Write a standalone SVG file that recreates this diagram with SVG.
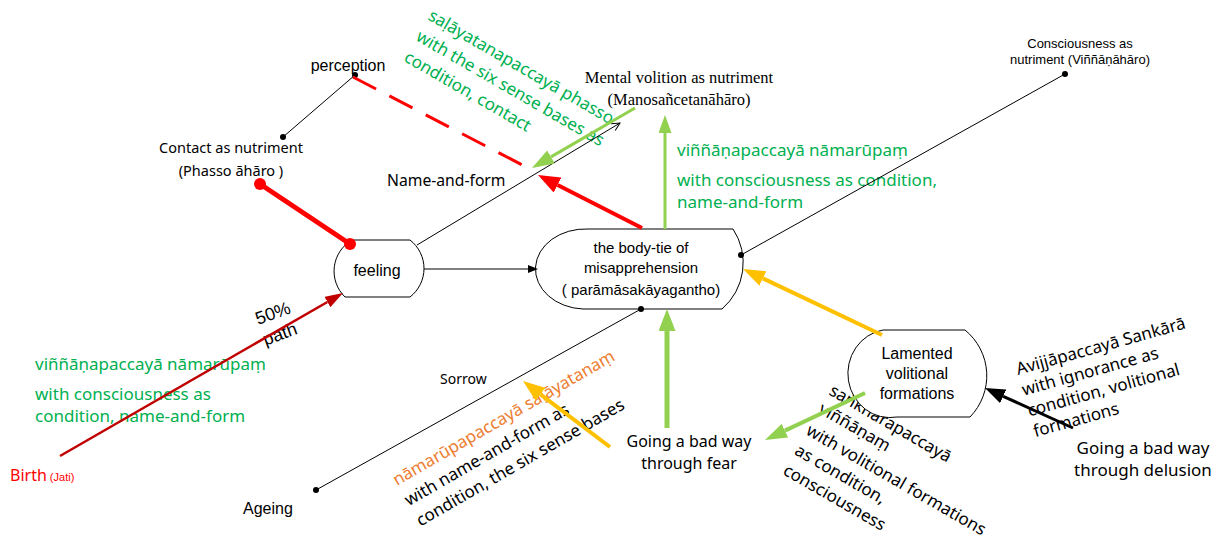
<svg xmlns="http://www.w3.org/2000/svg" width="1222" height="548" viewBox="0 0 1222 548">
<style>
.cal{font-family:"Noto Sans","Open Sans",sans-serif;}
.ar{font-family:"Liberation Sans",Arial,sans-serif;}
.tm{font-family:"Liberation Serif","Times New Roman",serif;}
.g{fill:#00B050;}
.node{fill:#fff;stroke:#000;stroke-width:1;}
.thin{stroke:#000;stroke-width:1;fill:none;}
.dot{fill:#000;}
</style>
<defs>
<marker id="hBlack" markerUnits="userSpaceOnUse" markerWidth="10" markerHeight="8" viewBox="0 0 10 8" refX="0" refY="4" orient="auto"><path d="M0,0 L10,4 L0,8 z" fill="#000"/></marker>
<marker id="hOpen" markerUnits="userSpaceOnUse" markerWidth="10" markerHeight="10" viewBox="0 0 10 10" refX="9" refY="5" orient="auto"><path d="M1,1 L9,5 L1,9" fill="none" stroke="#000" stroke-width="1"/></marker>
<marker id="hRed" markerUnits="userSpaceOnUse" markerWidth="22" markerHeight="17" viewBox="0 0 22 17" refX="0" refY="8.5" orient="auto"><path d="M0,0 L22,8.5 L0,17 z" fill="#FF0000"/></marker>
<marker id="hGreen" markerUnits="userSpaceOnUse" markerWidth="22" markerHeight="15" viewBox="0 0 22 15" refX="0" refY="7.5" orient="auto"><path d="M0,0 L22,7.5 L0,15 z" fill="#92D050"/></marker>
<marker id="hGreenS" markerUnits="userSpaceOnUse" markerWidth="18" markerHeight="13" viewBox="0 0 18 13" refX="0" refY="6.5" orient="auto"><path d="M0,0 L18,6.5 L0,13 z" fill="#92D050"/></marker>
<marker id="hGreenL" markerUnits="userSpaceOnUse" markerWidth="22" markerHeight="17" viewBox="0 0 22 17" refX="0" refY="8.5" orient="auto"><path d="M0,0 L22,8.5 L0,17 z" fill="#92D050"/></marker>
<marker id="hYellow" markerUnits="userSpaceOnUse" markerWidth="22" markerHeight="16" viewBox="0 0 22 16" refX="0" refY="8" orient="auto"><path d="M0,0 L22,8 L0,16 z" fill="#FFC000"/></marker>
<marker id="hBlackL" markerUnits="userSpaceOnUse" markerWidth="20" markerHeight="15" viewBox="0 0 20 15" refX="0" refY="7.5" orient="auto"><path d="M0,0 L20,7.5 L0,15 z" fill="#000"/></marker>
<marker id="hDark" markerUnits="userSpaceOnUse" markerWidth="18" markerHeight="12" viewBox="0 0 18 12" refX="0" refY="6" orient="auto"><path d="M0,0 L18,6 L0,12 z" fill="#C00000"/></marker>
</defs>
<rect width="1222" height="548" fill="#fff"/>

<!-- free labels -->
<g id="labels">
<text class="ar" x="348" y="71" font-size="16" text-anchor="middle">perception</text>
<text class="cal" x="231" y="153" font-size="14.5" text-anchor="middle">Contact as nutriment</text>
<text class="cal" x="231" y="176" font-size="14.5" text-anchor="middle">(Phasso āhāro )</text>
<text class="cal" x="387" y="186" font-size="15.7">Name-and-form</text>
<text class="tm" x="679" y="83" font-size="16.5" text-anchor="middle">Mental volition as nutriment</text>
<text class="tm" x="679" y="105" font-size="16.5" text-anchor="middle">(Manosañcetanāhāro)</text>
<text class="ar" x="1080" y="48" font-size="13" text-anchor="middle">Consciousness as</text>
<text class="ar" x="1080" y="64" font-size="13" text-anchor="middle">nutriment (Viññāṇāhāro)</text>
<g class="cal g" font-size="17">
<text x="677" y="156">viññāṇapaccayā nāmarūpaṃ</text>
<text x="677" y="186">with consciousness as condition,</text>
<text x="677" y="208">name-and-form</text>
</g>
<g class="cal g" font-size="17">
<text x="35" y="370">viññāṇapaccayā nāmarūpaṃ</text>
<text x="35" y="400">with consciousness as</text>
<text x="35" y="422">condition, name-and-form</text>
</g>
<g class="cal g" font-size="17" transform="translate(427,19) rotate(30)">
<text x="0" y="0">saḷāyatanapaccayā phasso</text>
<text x="0" y="24">with the six sense bases as</text>
<text x="0" y="48">condition, contact</text>
</g>
<g class="cal" font-size="17" transform="translate(397,486) rotate(-30)">
<text x="0" y="0" fill="#ED7D31">nāmarūpapaccayā saḷāyatanaṃ</text>
<text x="0" y="23.5">with name-and-form as</text>
<text x="0" y="47">condition, the six sense bases</text>
</g>
<g class="cal" font-size="17" transform="translate(828,394) rotate(30)">
<text x="0" y="0">saṅkhārapaccayā</text>
<text x="0" y="21">viññāṇaṃ</text>
<text x="0" y="46">with volitional formations</text>
<text x="0" y="69">as condition,</text>
<text x="0" y="92">consciousness</text>
</g>
<g class="cal" font-size="17" transform="translate(1018,375) rotate(-15.5)">
<text x="0" y="0">Avijjāpaccayā Sankārā</text>
<text x="0" y="21.5">with ignorance as</text>
<text x="0" y="43">condition, volitional</text>
<text x="0" y="64.5">formations</text>
</g>
<g class="ar" font-size="18" transform="translate(258,325) rotate(-20)">
<text x="0" y="0">50%</text>
<text x="0" y="22">path</text>
</g>
<text class="cal" x="440" y="384" font-size="14">Sorrow</text>
<text class="ar" x="243" y="514" font-size="16">Ageing</text>
<text x="10" y="481" fill="#FF0000"><tspan class="cal" font-size="16">Birth</tspan><tspan class="ar" font-size="11"> (Jati)</tspan></text>
<text class="cal" x="689" y="447" font-size="16" text-anchor="middle">Going a bad way</text>
<text class="cal" x="689" y="469" font-size="16" text-anchor="middle">through fear</text>
<text class="cal" x="1143" y="454" font-size="17" text-anchor="middle">Going a bad way</text>
<text class="cal" x="1143" y="476" font-size="17" text-anchor="middle">through delusion</text>
</g>

<!-- nodes -->
<g id="feeling">
<path class="node" d="M352,240 H410 A36,36 0 0 1 410,297 H345 A36,36 0 0 1 352,240 Z"/>
<text class="ar" x="377" y="276" font-size="16" text-anchor="middle">feeling</text>
</g>
<g id="bodytie">
<path class="node" d="M588,229 H733 A61,61 0 0 1 722,309 H583 A50,40 0 0 1 588,229 Z"/>
<text class="ar" x="641" y="253" font-size="15" text-anchor="middle">the body-tie of</text>
<text class="ar" x="641" y="273" font-size="15" text-anchor="middle">misapprehension</text>
<text class="ar" x="641" y="295" font-size="15" text-anchor="middle">( parāmāsakāyagantho)</text>
</g>
<g id="lamented">
<path class="node" d="M883,330 H965 A59,59 0 0 1 970,417 H897 A42,44 0 0 1 883,330 Z"/>
<text class="ar" x="917" y="359" font-size="16" text-anchor="middle">Lamented</text>
<text class="ar" x="917" y="379" font-size="16" text-anchor="middle">volitional</text>
<text class="ar" x="917" y="399" font-size="16" text-anchor="middle">formations</text>
</g>

<!-- connectors -->
<g id="connectors">
<line class="thin" x1="283" y1="137" x2="355" y2="75"/>
<circle class="dot" cx="283" cy="137" r="3"/>
<circle class="dot" cx="355" cy="75" r="3"/>
<line x1="353" y1="77" x2="530" y2="169" stroke="#FF0000" stroke-width="3" stroke-dasharray="26 15"/>
<line x1="260" y1="184" x2="350" y2="244" stroke="#FF0000" stroke-width="5"/>
<circle cx="260" cy="184" r="6" fill="#FF0000"/>
<circle cx="350" cy="244" r="6" fill="#FF0000"/>
<line class="thin" x1="417" y1="245" x2="620" y2="123" marker-end="url(#hOpen)"/>
<line class="thin" x1="424" y1="269" x2="528" y2="269" marker-end="url(#hBlack)"/>
<line x1="642" y1="228" x2="557.6" y2="185" stroke="#FF0000" stroke-width="4" marker-end="url(#hRed)"/>
<line x1="635" y1="108" x2="551" y2="156.9" stroke="#92D050" stroke-width="3" marker-end="url(#hGreen)"/>
<line x1="665" y1="229" x2="665" y2="133" stroke="#92D050" stroke-width="3" marker-end="url(#hGreenS)"/>
<line x1="667" y1="428" x2="667" y2="331" stroke="#92D050" stroke-width="5" marker-end="url(#hGreenL)"/>
<line x1="882" y1="335" x2="762.9" y2="278.4" stroke="#FFC000" stroke-width="4" marker-end="url(#hYellow)"/>
<line x1="610" y1="447" x2="540.5" y2="394.3" stroke="#FFC000" stroke-width="4" marker-end="url(#hYellow)"/>
<line x1="865" y1="393" x2="784.9" y2="430.6" stroke="#92D050" stroke-width="4" marker-end="url(#hGreen)"/>
<line x1="1073" y1="428" x2="1003.2" y2="396.3" stroke="#000" stroke-width="3" marker-end="url(#hBlackL)"/>
<line x1="60" y1="456" x2="327.4" y2="302" stroke="#C00000" stroke-width="2.5" marker-end="url(#hDark)"/>
<line class="thin" x1="741" y1="255" x2="1065" y2="74"/>
<circle class="dot" cx="741" cy="255" r="3"/>
<circle class="dot" cx="1065" cy="74" r="3"/>
<line class="thin" x1="641" y1="309" x2="316" y2="490"/>
<circle class="dot" cx="641" cy="309" r="3"/>
<circle class="dot" cx="316" cy="490" r="3"/>
</g>
</svg>
